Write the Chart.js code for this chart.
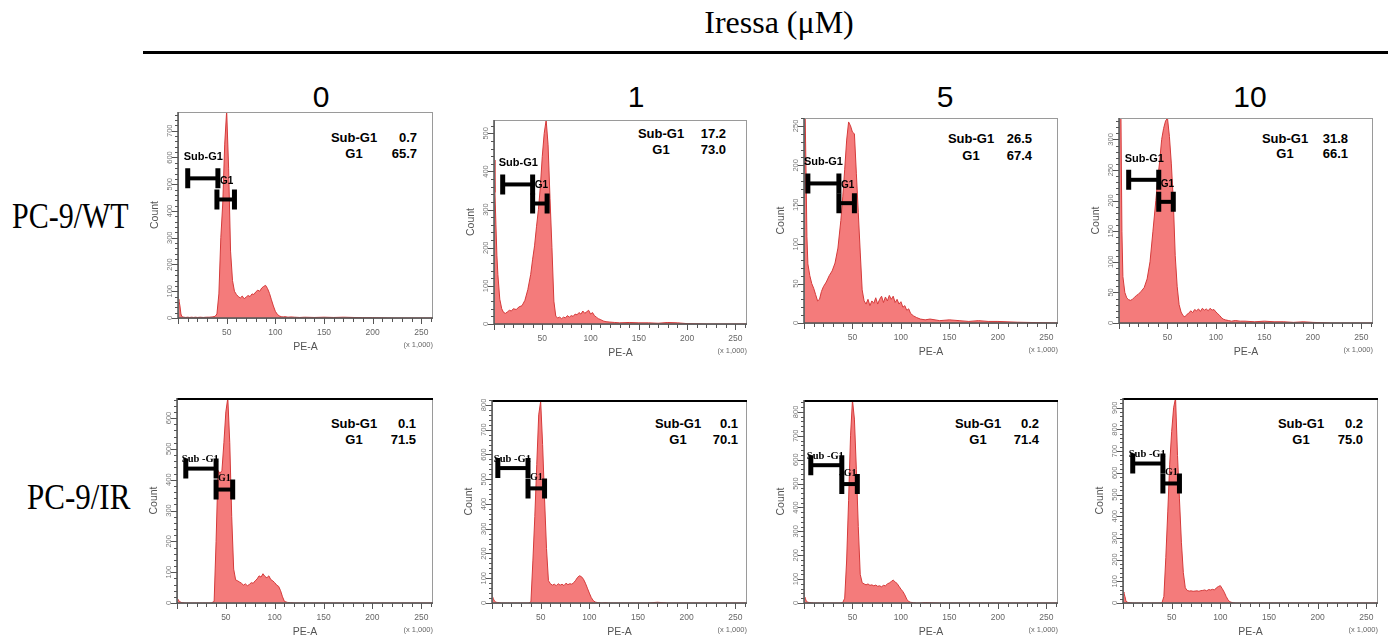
<!DOCTYPE html>
<html><head><meta charset="utf-8">
<script src="https://cdn.jsdelivr.net/npm/chart.js@4.4.1/dist/chart.umd.min.js"></script>
<style>
html,body{margin:0;padding:0;background:#fff}
body{width:1392px;height:639px;position:relative;overflow:hidden;font-family:"Liberation Sans",Arial,sans-serif}
.abs{position:absolute;white-space:nowrap;color:#000}
canvas{position:absolute}
</style></head><body>
<script>
// ---------------- DATA ----------------
const peValues = [0,1,2,3,4,6,8,10,12,14, 16,18,20,23,26,29,32,35,38,40, 42,44,46,48,50,52,54,56,58,60, 62,64,66,68,70,72,74,76,78,80, 82,84,86,88,90,92,94,96,98,100, 102,104,106,108,110,113,116,120,125,130, 140,150,160,170,180,190,200,220,262];

const countWT0  = [70,65,45,15,5,3,2,3,2,3, 2,3,2,3,2,3,3,4,6,15, 90,300,430,650,775,560,250,140,100,88, 80,75,82,72,78,84,80,90,88,98, 104,100,112,118,122,110,92,68,45,25, 14,8,5,4,5,3,4,3,2,3, 2,3,2,3,2,1,1,0,0];
const countWT1  = [430,345,260,180,130,65,40,30,28,32, 36,34,40,38,45,48,62,90,130,170, 205,255,300,360,440,500,535,470,330,200, 60,20,16,18,14,18,16,22,18,22, 20,26,24,30,26,34,28,32,36,26, 30,22,18,14,12,8,6,5,4,3, 4,3,3,2,4,3,1,0,0];
const countWT5  = [300,280,200,110,75,60,50,44,36,28, 30,40,46,52,60,66,76,95,130,160, 195,232,255,250,242,240,190,140,90,42, 28,24,30,22,28,25,32,24,30,34, 26,33,28,35,30,34,26,30,24,27, 20,22,16,18,12,9,7,5,4,5, 3,4,3,2,3,2,2,1,0];
const countWT10 = [400,380,340,150,76,50,41,38,37,39, 42,45,47,52,58,72,100,150,200,235, 265,300,318,330,335,305,260,200,110,60, 30,18,12,10,14,16,20,17,22,20, 23,19,24,21,23,20,24,21,22,18, 15,12,8,6,5,4,3,4,3,3, 2,3,2,2,1,2,1,0,0];
const countIR0  = [12,10,8,4,2,1,0,0,0,0, 0,0,0,0,0,0,0,0,5,200, 430,420,430,520,620,665,520,280,110,75, 72,68,64,58,62,56,60,66,64,72, 78,88,84,95,86,82,88,76,72,66, 58,54,40,20,5,2,1,0,0,0, 0,0,0,0,0,0,0,0,0];
const countIR1  = [22,20,12,6,3,2,1,0,0,0, 0,0,0,0,0,0,0,0,0,5, 170,350,560,760,815,640,420,220,90,78, 72,76,70,78,72,76,70,80,74,78, 76,82,92,104,110,106,96,80,60,40, 22,10,4,2,1,0,1,0,0,0, 0,0,0,3,0,0,0,0,0];
const countIR5  = [25,22,12,5,3,2,1,0,0,0, 0,0,0,0,0,0,0,0,0,2, 20,180,430,700,850,770,560,320,120,85, 80,76,80,74,76,72,75,70,72,68, 74,72,80,84,90,96,88,82,70,58, 48,34,16,6,3,1,0,0,2,1, 0,0,0,0,0,0,0,0,0];
const countIR10 = [50,45,30,10,4,2,1,0,0,0, 0,0,0,0,0,0,0,0,0,0, 30,210,420,640,790,900,945,680,480,280, 140,70,58,55,56,54,55,56,54,57, 58,60,56,62,60,63,60,70,76,80, 66,50,30,14,5,1,0,0,0,0, 0,0,0,0,0,0,0,0,0];

const iressaDoses = ['0','1','5','10'];
const cellLines = ['PC-9/WT','PC-9/IR'];
const countMax   = [770,535,260,335,665,820,850,945];
const countMajor = [100,100,50,50,100,100,100,100];
const peTicks = [50,100,150,200,250];
const subG1Pct = ['0.7','17.2','26.5','31.8','0.1','0.1','0.2','0.2'];
const g1Pct    = ['65.7','73.0','67.4','66.1','71.5','70.1','71.4','75.0'];
// gates: [start, end, count level]
const gateSubG1 = [[10,41,522],[9,40,366],[4,36,177],[10,41,234],[9,40,436],[6,37,545],[7,39,577],[10,41,643]];
const gateG1    = [[40,58,443],[40,55,316],[36,52,152],[41,56,198],[40,57,368],[37,54,463],[39,55,498],[41,58,551]];

const panelSeries = [countWT0,countWT1,countWT5,countWT10,countIR0,countIR1,countIR5,countIR10];

// ---------------- LAYOUT ----------------
const boxes = [[178,112,433,318],[494,120,747,324],[804,118,1058,323],[1119,118,1373,323],
               [177,398,433,603],[492,400,747,603],[804,400,1058,603],[1123,398,1378,603]];
const statsPos = [[354,417,137,153],[661,726,133,149],[971,1032,138,155],[1285,1348,138,153],
                  [354,416,423,439],[678,738,423,439],[978,1039,423,439],[1301,1363,423,439]];

function addText(str, x, baseline, size, family, weight, align, opts) {
  opts = opts || {};
  const d = document.createElement('div');
  d.className = 'abs';
  d.textContent = str;
  const k = family.indexOf('Serif') >= 0 ? 0.8375 : 0.8465;
  const sy = opts.scaleY || 1;
  d.style.font = weight + ' ' + size + 'px "' + family + '"';
  d.style.lineHeight = '1';
  d.style.top = (baseline - k * size * sy) + 'px';
  let tr = '';
  if (align === 'center') { d.style.left = x + 'px'; tr += 'translateX(-50%) '; }
  else if (align === 'right') { d.style.right = (1392 - x) + 'px'; }
  else { d.style.left = x + 'px'; }
  if (sy !== 1) { tr += 'scaleY(' + sy + ')'; d.style.transformOrigin = '0 0'; }
  if (tr) d.style.transform = tr;
  if (opts.color) d.style.color = opts.color;
  document.body.appendChild(d);
  return d;
}

// Header
addText('Iressa (\u03bcM)', 779, 33, 32, 'Liberation Serif', 'normal', 'center');
const rule = document.createElement('div');
rule.className = 'abs';
Object.assign(rule.style, {left:'143px', top:'51px', width:'1245px', height:'3px', background:'#000'});
document.body.appendChild(rule);
const doseX = [321, 636, 945, 1250];
iressaDoses.forEach((d, i) => addText(d, doseX[i], 107, 30, 'Liberation Sans', 'normal', 'center'));
addText(cellLines[0], 12, 228, 30, 'Liberation Serif', 'normal', 'left', {scaleY:1.2});
addText(cellLines[1], 27, 509, 31, 'Liberation Serif', 'normal', 'left', {scaleY:1.18});

// Stats text
for (let i = 0; i < 8; i++) {
  const [cx, rx, y1, y2] = statsPos[i];
  const fs = 13;
  const off = 0.358 * fs;
  addText('Sub-G1', cx, y1 + off, fs, 'Liberation Sans', 'bold', 'center');
  addText('G1', cx, y2 + off, fs, 'Liberation Sans', 'bold', 'center');
  addText(subG1Pct[i], rx, y1 + off, fs, 'Liberation Sans', 'bold', 'right');
  addText(g1Pct[i], rx, y2 + off, fs, 'Liberation Sans', 'bold', 'right');
}

// ---------------- PLUGIN ----------------
const panelDeco = {
  id: 'panelDeco',
  afterDatasetsDraw(chart, args, o) {
    const ctx = chart.ctx, a = chart.chartArea, x = chart.scales.x, y = chart.scales.y;
    ctx.save();
    // frame
    ctx.strokeStyle = '#9a9a9a'; ctx.lineWidth = 1;
    ctx.strokeRect(a.left + 0.5, a.top + 0.5, a.right - a.left - 1, a.bottom - a.top);
    if (o.row === 1) {
      ctx.strokeStyle = '#000'; ctx.lineWidth = 2;
      ctx.beginPath(); ctx.moveTo(a.left, a.top + 1); ctx.lineTo(a.right, a.top + 1); ctx.stroke();
    }
    ctx.strokeStyle = '#555'; ctx.lineWidth = 1.5;
    ctx.beginPath(); ctx.moveTo(a.left, a.top); ctx.lineTo(a.left, a.bottom); ctx.lineTo(a.right, a.bottom); ctx.stroke();
    // x ticks
    ctx.lineWidth = 1; ctx.strokeStyle = '#555';
    for (let v = 0; v <= x.max; v += 10) {
      const px = Math.round(x.getPixelForValue(v)) + 0.5;
      const len = v % 50 === 0 ? 6 : 4;
      ctx.beginPath(); ctx.moveTo(px, a.bottom); ctx.lineTo(px, a.bottom + len); ctx.stroke();
    }
    ctx.fillStyle = '#666'; ctx.font = '8.5px "Liberation Sans"'; ctx.textAlign = 'center'; ctx.textBaseline = 'middle';
    o.xLabels.forEach(v => ctx.fillText(String(v), x.getPixelForValue(v), a.bottom + 15));
    ctx.fillStyle = '#555'; ctx.font = '10.5px "Liberation Sans"';
    ctx.fillText('PE-A', (a.left + a.right) / 2, a.bottom + 29);
    ctx.font = '7.5px "Liberation Sans"'; ctx.textAlign = 'right'; ctx.fillStyle = '#666';
    ctx.fillText('(x 1,000)', a.right, a.bottom + 27);
    // y ticks
    const step = o.major / 5;
    for (let v = 0; v <= y.max + 0.01; v += step) {
      const py = Math.round(y.getPixelForValue(v)) + 0.5;
      const isMaj = Math.abs(v % o.major) < 1e-6;
      ctx.beginPath(); ctx.moveTo(a.left, py); ctx.lineTo(a.left - (isMaj ? 6 : 3), py); ctx.stroke();
      if (isMaj) {
        ctx.save();
        ctx.translate(a.left - 8, y.getPixelForValue(v));
        ctx.rotate(-Math.PI / 2);
        ctx.font = '7.5px "Liberation Sans"'; ctx.fillStyle = '#777'; ctx.textAlign = 'center'; ctx.textBaseline = 'middle';
        ctx.fillText(String(v), 0, 0);
        ctx.restore();
      }
    }
    ctx.save();
    ctx.translate(a.left - 23, (a.top + a.bottom) / 2);
    ctx.rotate(-Math.PI / 2);
    ctx.font = '10.5px "Liberation Sans"'; ctx.fillStyle = '#555'; ctx.textAlign = 'center'; ctx.textBaseline = 'middle';
    ctx.fillText('Count', 0, 0);
    ctx.restore();
    // gates
    function gate(g) {
      const X1 = x.getPixelForValue(g[0]), X2 = x.getPixelForValue(g[1]), Y = y.getPixelForValue(g[2]);
      ctx.strokeStyle = '#000';
      ctx.lineWidth = 4; ctx.beginPath(); ctx.moveTo(X1, Y); ctx.lineTo(X2, Y); ctx.stroke();
      ctx.lineWidth = 5; ctx.beginPath();
      ctx.moveTo(X1, Y - 10); ctx.lineTo(X1, Y + 10);
      ctx.moveTo(X2, Y - 10); ctx.lineTo(X2, Y + 10); ctx.stroke();
      return {X1, X2, Y};
    }
    const s = gate(o.sub), g = gate(o.g1);
    ctx.fillStyle = '#000'; ctx.textAlign = 'left'; ctx.textBaseline = 'middle';
    if (o.row === 0) {
      ctx.font = 'bold 11px "Liberation Sans"';
      ctx.fillText('Sub-G1', s.X1 - 4, s.Y - 21);
      ctx.font = 'bold 10px "Liberation Sans"';
      ctx.fillText('G1', s.X2 + 2, g.Y - 18);
    } else {
      ctx.font = 'bold 10.5px "Liberation Serif"';
      ctx.fillText('Sub -G1', s.X1 - 4, s.Y - 9);
      ctx.font = 'bold 10px "Liberation Serif"';
      ctx.fillText('G1', s.X2 + 2, g.Y - 11);
    }
    ctx.restore();
  }
};

// ---------------- CHARTS ----------------
for (let i = 0; i < 8; i++) {
  const [L, T, R, B] = boxes[i];
  const cv = document.createElement('canvas');
  const w = (R - L) + 51, h = (B - T) + 46;
  cv.width = w; cv.height = h;
  cv.style.left = (L - 45) + 'px'; cv.style.top = (T - 6) + 'px';
  cv.style.width = w + 'px'; cv.style.height = h + 'px';
  document.body.appendChild(cv);
  const series = panelSeries[i];
  new Chart(cv.getContext('2d'), {
    type: 'line',
    data: {
      datasets: [{
        data: peValues.map((v, k) => ({x: v, y: series[k]})),
        borderColor: '#d43a3a',
        backgroundColor: '#f47b7b',
        borderWidth: 1,
        fill: 'origin',
        pointRadius: 0,
        tension: 0
      }]
    },
    options: {
      responsive: false,
      animation: false,
      devicePixelRatio: 1,
      layout: {padding: {top: 6, right: 6, left: 0, bottom: 0}},
      plugins: {
        legend: {display: false},
        tooltip: {enabled: false},
        panelDeco: {row: i < 4 ? 0 : 1, major: countMajor[i], sub: gateSubG1[i], g1: gateG1[i], xLabels: peTicks}
      },
      scales: {
        x: {type: 'linear', min: 0, max: 262, grid: {display: false}, border: {display: false},
            ticks: {display: false}, afterFit: s => { s.height = 40; }},
        y: {type: 'linear', min: 0, max: countMax[i], grid: {display: false}, border: {display: false},
            ticks: {display: false}, afterFit: s => { s.width = 45; }}
      }
    },
    plugins: [panelDeco]
  });
}
</script>
</body></html>
